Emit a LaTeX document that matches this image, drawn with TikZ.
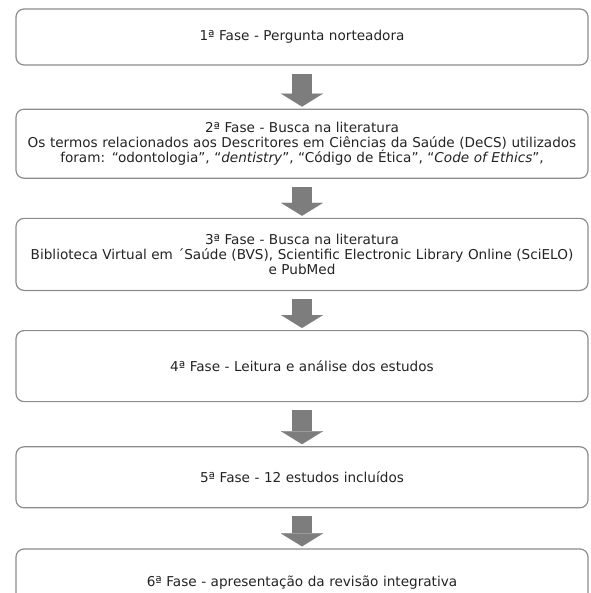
\documentclass[tikz,border=0pt]{standalone}
\usepackage{fontspec}
\setmainfont{DejaVu Sans}
\usetikzlibrary{arrows.meta, positioning}
\definecolor{boxline}{RGB}{140,140,140}
\definecolor{arrowgray}{RGB}{125,125,125}
\definecolor{textgray}{RGB}{35,35,35}

\begin{document}
\begin{tikzpicture}[
    x=1pt, y=1pt,
    fase/.style={rectangle, draw=boxline, line width=1.2pt, rounded corners=8pt, minimum width=572pt, text width=570pt, align=center, inner sep=0pt, text=textgray, font=\fontsize{13.6}{15}\selectfont},
    seta/.style={-{Triangle[width=42pt, length=13pt, line width=0.1pt]}, line width=20pt, draw=arrowgray, fill=arrowgray, shorten <=8pt, shorten >=2pt}
]
\useasboundingbox (0,0) rectangle (590,-593);

\node[fase, minimum height=56pt] (fase1) at (302,-37) {1ª Fase - Pergunta norteadora};
\node[fase, minimum height=69pt, below=43pt of fase1] (fase2) {2ª Fase - Busca na literatura\\
    Os termos relacionados aos Descritores em Ciências da Saúde (DeCS) utilizados\\
    foram: “odontologia”, “\textit{dentistry}”, “Código de Ética”, “\textit{Code of Ethics}”,};
\node[fase, minimum height=72pt, below=39pt of fase2] (fase3) {3ª Fase - Busca na literatura\\
    Biblioteca Virtual em ´Saúde (BVS), Scientific Electronic Library Online (SciELO)\\
    e PubMed};
\node[fase, minimum height=71pt, below=39pt of fase3] (fase4) {4ª Fase - Leitura e análise dos estudos};
\node[fase, minimum height=61pt, below=44pt of fase4] (fase5) {5ª Fase - 12 estudos incluídos};
\node[fase, minimum height=68pt, below=40pt of fase5] (fase6) {6ª Fase - apresentação da revisão integrativa};

\draw[seta] (fase1) -- (fase2);
\draw[seta] (fase2) -- (fase3);
\draw[seta] (fase3) -- (fase4);
\draw[seta] (fase4) -- (fase5);
\draw[seta] (fase5) -- (fase6);
\end{tikzpicture}
\end{document}
